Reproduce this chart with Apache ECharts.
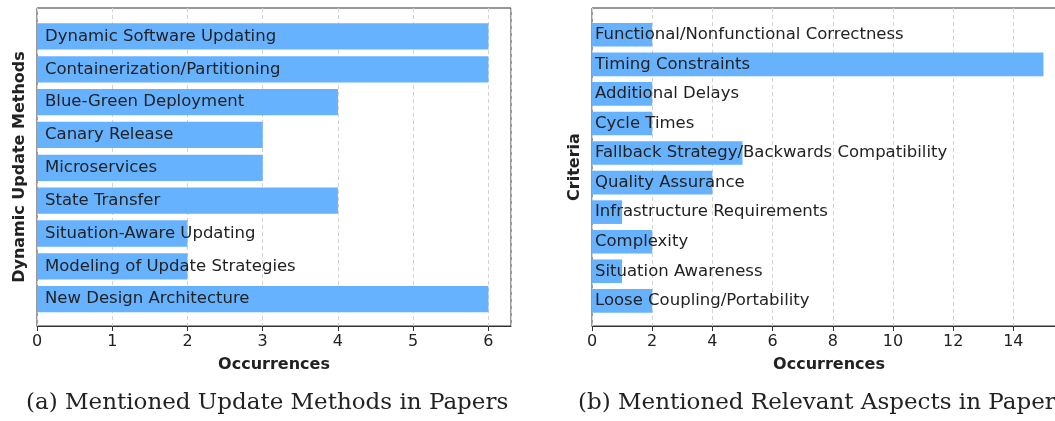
<!DOCTYPE html>
<html lang="en">
<head>
    <meta charset="UTF-8">
    <title>Update Methods and Relevant Aspects</title>
    <script src="https://cdn.jsdelivr.net/npm/echarts@6/dist/echarts.min.js"></script>
    <style>
        body { margin: 0; background: #fff; }
    </style>
</head>
<body>
    <div id="main" style="width: 1055px;height:421px;"></div>
    <script type="text/javascript">
        // (a) update methods
        var methodNames = [
            'Dynamic Software Updating',
            'Containerization/Partitioning',
            'Blue-Green Deployment',
            'Canary Release',
            'Microservices',
            'State Transfer',
            'Situation-Aware Updating',
            'Modeling of Update Strategies',
            'New Design Architecture'
        ];
        var methodCounts = [6, 6, 4, 3, 3, 4, 2, 2, 6];

        // (b) relevant aspects
        var criteriaNames = [
            'Functional/Nonfunctional Correctness',
            'Timing Constraints',
            'Additional Delays',
            'Cycle Times',
            'Fallback Strategy/Backwards Compatibility',
            'Quality Assurance',
            'Infrastructure Requirements',
            'Complexity',
            'Situation Awareness',
            'Loose Coupling/Portability'
        ];
        var criteriaCounts = [2, 15, 2, 2, 5, 4, 1, 2, 1, 2];

        var captions = [
            '(a) Mentioned Update Methods in Papers',
            '(b) Mentioned Relevant Aspects in Paper'
        ];

        var textColor = '#222';
        var barColor = '#66b2ff';
        var font = 'DejaVu Sans';

        var myChart = echarts.init(document.getElementById('main'));

        // 外框 + 刻度用的 x 轴
        function frameX(gridIndex, max, interval) {
            return {
                type: 'value', gridIndex: gridIndex, min: 0, max: max, interval: interval,
                name: 'Occurrences', nameLocation: 'middle', nameGap: 31,
                nameTextStyle: { fontFamily: font, fontSize: 16, fontWeight: 'bold', color: textColor },
                axisLine: { show: true, lineStyle: { color: '#333' } },
                axisTick: { show: true, length: 5, lineStyle: { color: '#333' } },
                axisLabel: { fontFamily: font, fontSize: 16, color: textColor, margin: 8, showMaxLabel: false },
                splitLine: { show: true, lineStyle: { color: '#d3d3d3', type: [4, 3] } }
            };
        }
        function frameY(gridIndex, name) {
            return {
                type: 'value', gridIndex: gridIndex, min: 0, max: 1,
                name: name, nameLocation: 'middle', nameGap: 9.5, nameRotate: 90,
                nameTextStyle: { fontFamily: font, fontSize: 16, fontWeight: 'bold', color: textColor },
                axisLine: { show: false }, axisTick: { show: false },
                axisLabel: { show: false }, splitLine: { show: false }
            };
        }
        function bandX(gridIndex, max) {
            return { type: 'value', gridIndex: gridIndex, min: 0, max: max, show: false, splitLine: { show: false } };
        }
        function bandY(gridIndex, cats) {
            return { type: 'category', gridIndex: gridIndex, data: cats, inverse: true, show: false };
        }
        function barSeries(axisIndex, values, labelX) {
            return {
                type: 'bar', xAxisIndex: axisIndex, yAxisIndex: axisIndex,
                data: values, barWidth: '80%',
                itemStyle: { color: barColor },
                label: {
                    show: true, formatter: '{b}', position: [labelX, '50%'],
                    align: 'left', verticalAlign: 'middle',
                    fontFamily: font, fontSize: 16.5, color: textColor
                },
                silent: true, animation: false
            };
        }
        var captionStyle = { fontFamily: 'DejaVu Serif', fontSize: 23, fontWeight: 'normal', color: textColor };

        var option = {
            backgroundColor: '#fff',
            animation: false,
            title: [
                { text: captions[0], left: 21, top: 387, textStyle: captionStyle },
                { text: captions[1], left: 573, top: 387, textStyle: captionStyle }
            ],
            grid: [
                { left: 37, top: 8, width: 474, height: 318, outerBoundsMode: 'none', show: true, borderColor: '#333', borderWidth: 1, backgroundColor: 'transparent' },
                { left: 37, top: 20, width: 474, height: 295.6, outerBoundsMode: 'none' },
                { left: 592, top: 8, width: 474, height: 318, outerBoundsMode: 'none', show: true, borderColor: '#333', borderWidth: 1, backgroundColor: 'transparent' },
                { left: 592, top: 20, width: 474, height: 295.6, outerBoundsMode: 'none' }
            ],
            xAxis: [
                frameX(0, 6.3, 1),
                bandX(1, 6.3),
                frameX(2, 15.75, 2),
                bandX(3, 15.75)
            ],
            yAxis: [
                frameY(0, 'Dynamic Update Methods'),
                bandY(1, methodNames),
                frameY(2, 'Criteria'),
                bandY(3, criteriaNames)
            ],
            series: [
                barSeries(1, methodCounts, 8),
                barSeries(3, criteriaCounts, 3)
            ]
        };

        myChart.setOption(option);
    </script>
</body>
</html>
